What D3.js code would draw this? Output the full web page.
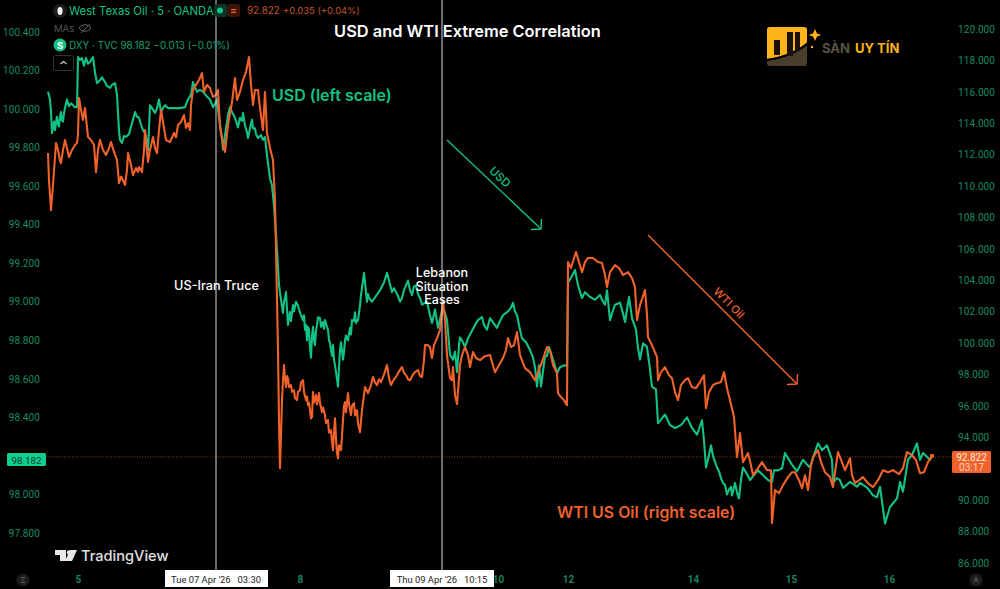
<!DOCTYPE html>
<html><head><meta charset="utf-8">
<script src="https://cdnjs.cloudflare.com/ajax/libs/d3/7.8.5/d3.min.js"></script>
<style>html,body{margin:0;padding:0;background:#000}svg{display:block}text{font-family:Inter,Roboto,sans-serif}</style>
</head><body><svg id="c" width="1000" height="589"></svg>
<script>
// [15-minute bar number, DXY value]
const usdSeries=[[0,100.09],[2,100.05],[3,99.985],[4,99.875],[5,99.91],[6,99.935],[7,99.89],[8,99.93],[9,99.96],[10,99.92],[11,99.91],[12,99.96],[13,99.985],[14,99.94],[15,99.935],[16,99.98],[17,100.005],[19,100.05],[21,100.015],[23,100.03],[25,100.02],[27,100.01],[29,100.01],[30,100.27],[32,100.255],[34,100.265],[36,100.225],[38,100.265],[40,100.235],[42,100.245],[45,100.27],[47,100.19],[49,100.135],[52,100.15],[54,100.165],[57,100.14],[59,100.12],[62,100.11],[64,100.125],[67,100.135],[69,100.075],[71,99.89],[72,99.84],[74,99.825],[76,99.86],[77,99.855],[79,99.86],[81,99.87],[82,99.89],[85,99.945],[87,99.985],[89,99.96],[91,99.955],[93,99.92],[95,99.89],[97,99.875],[99,99.83],[100,99.785],[102,100.02],[104,100.005],[107,99.98],[109,100.005],[111,100.05],[113,99.985],[115,100.005],[117,100.02],[120,100.005],[122,100.005],[127,100.005],[132,100.005],[137,100.01],[140,100.05],[143,100.075],[145,100.14],[147,100.11],[149,100.09],[152,100.1],[155,100.09],[159,100.065],[162,100.05],[165,100.01],[167,100.025],[169,100.05],[171,99.955],[174,99.85],[175,99.79],[177,99.865],[180,99.97],[182,100.01],[184,99.985],[187,99.955],[190,99.905],[192,99.955],[194,99.94],[195,99.98],[197,99.915],[199,99.88],[200,99.85],[202,99.9],[204,99.945],[205,99.9],[207,99.9],[208,99.87],[210,99.85],[213,99.865],[215,99.84],[217,99.855],[219,99.76],[222,99.64],[224,99.605],[226,99.5],[227,99.425],[229,99.27],[231,99.087],[233,99.01],[235,98.942],[236,99],[237,99.02],[238,99.05],[239,98.96],[240,98.88],[241,98.92],[242,98.947],[243,98.9],[245,98.983],[246,98.95],[248,99],[250,98.98],[251,98.96],[253,98.93],[255,98.905],[256,98.93],[257,98.855],[258,98.88],[259,98.8],[260,98.87],[261,98.855],[262,98.76],[263,98.71],[264,98.82],[265,98.87],[266,98.8],[267,98.775],[268,98.85],[269,98.88],[270,98.92],[272,98.915],[273,98.87],[275,98.895],[276,98.86],[277,98.905],[279,98.87],[280,98.855],[281,98.8],[282,98.785],[284,98.72],[285,98.775],[286,98.7],[287,98.67],[289,98.6],[290,98.56],[292,98.75],[293,98.79],[295,98.7],[296,98.74],[297,98.8],[298,98.825],[300,98.8],[302,98.865],[303,98.83],[304,98.905],[306,98.9],[307,98.945],[308,98.89],[310,98.905],[312,98.98],[313,99.035],[316,99.15],[318,99.05],[319,99],[320,99.04],[321,99.02],[324,99],[328,99.03],[332,99.06],[336,99.1],[339,99.15],[342,99.09],[344,99.05],[346,99.07],[348,99.05],[350,99.03],[352,99],[354,99.02],[356,99.06],[360,99.11],[362,99.06],[364,99.035],[366,99.08],[368,99.085],[370,99.04],[372,99.02],[374,98.985],[379,99],[382,98.93],[384,98.89],[387,98.96],[390,98.865],[393,98.93],[395,98.975],[399,98.905],[402,98.725],[405,98.7],[407,98.74],[409,98.635],[411,98.775],[412,98.815],[415,98.79],[417,98.765],[420,98.81],[422,98.83],[427,98.88],[430,98.905],[434,98.92],[436,98.88],[439,98.855],[442,98.915],[449,98.865],[452,98.9],[455,98.93],[460,98.95],[463,98.97],[465,98.995],[467,98.95],[469,98.93],[472,98.855],[474,98.81],[478,98.79],[482,98.75],[485,98.71],[487,98.66],[489,98.56],[491,98.67],[493,98.56],[495,98.64],[497,98.715],[499,98.72],[501,98.765],[505,98.7],[509,98.63],[512,98.66],[516,98.67],[519,98.67],[520,99.1],[523,99.125],[527,99.165],[530,99.085],[534,99.02],[537,99.05],[542,99.025],[547,99.01],[552,99.035],[555,99],[557,98.985],[559,99.06],[562,98.905],[565,98.955],[567,98.985],[572,98.995],[575,98.94],[577,98.895],[579,98.96],[581,99.025],[584,98.915],[588,98.855],[590,98.76],[592,98.7],[595,98.785],[599,98.765],[602,98.65],[604,98.56],[608,98.545],[610,98.37],[614,98.395],[617,98.415],[622,98.36],[627,98.345],[633,98.36],[639,98.4],[644,98.345],[649,98.31],[654,98.385],[656,98.28],[658,98.14],[661,98.205],[663,98.255],[665,98.2],[666,98.185],[669,98.14],[671,98.12],[673,98.085],[675,98.06],[677,98.05],[679,98],[681,98.025],[683,98.04],[684,97.995],[687,98.06],[689,98.01],[691,97.98],[693,98.075],[695,98.14],[698,98.115],[702,98.075],[706,98.1],[710,98.125],[715,98.1],[720,98.075],[724,98.065],[726,98.125],[730,98.125],[734,98.135],[737,98.215],[741,98.18],[744,98.155],[749,98.12],[755,98.18],[759,98.155],[762,98.14],[766,98.205],[770,98.265],[774,98.23],[779,98.255],[784,98.18],[785,98.06],[789,98.085],[792,98.075],[795,98.034],[802,98.065],[809,98.04],[812,98.06],[819,98.035],[825,97.995],[829,97.985],[832,98.04],[837,97.85],[842,97.935],[849,97.98],[852,98.065],[855,98.015],[860,98.18],[864,98.205],[869,98.265],[872,98.18],[875,98.215],[882,98.18],[884,98.2]];
// [15-minute bar number, WTI value]
const wtiSeries=[[0,112.1],[1,110.38],[3,108.47],[5,110.07],[8,112.74],[10,112.3],[12,111.6],[13,111.47],[15,112.3],[17,112.93],[19,112.42],[21,111.85],[24,112.3],[27,112.61],[29,112.74],[30,113.25],[31,115.61],[33,114.85],[35,114.21],[37,114.97],[40,113.12],[43,112.93],[46,112.61],[48,110.89],[50,112.3],[52,112.93],[55,112.3],[58,111.98],[61,112.42],[63,112.8],[66,112.17],[69,111.66],[71,110.19],[73,110.6],[74,110.51],[76,110.2],[77,110.07],[79,111.02],[80,112.1],[83,111.34],[85,110.7],[88,111.15],[90,110.9],[91,111.21],[94,110.89],[96,112.3],[97,113.57],[100,111.53],[102,112.3],[105,113.12],[107,112.42],[109,112.1],[111,113.57],[113,114.84],[116,113.7],[118,112.93],[122,112.8],[126,113.38],[128,113.1],[130,113.89],[133,114.08],[136,114.52],[138,113.7],[140,114],[142,113.57],[143,115.16],[145,116.12],[148,116.44],[151,116.75],[154,117.2],[156,115.99],[159,116.44],[162,116.24],[165,115.67],[168,115.8],[170,116.12],[172,113.76],[175,112.61],[177,112.17],[180,113.89],[184,115.35],[187,116.88],[189,115.48],[192,115.99],[195,116.75],[198,117.26],[201,118.22],[203,116.44],[205,115.16],[207,116.12],[210,116.12],[212,114.97],[215,113.57],[217,115.99],[219,113.38],[222,112.42],[225,111.66],[227,109.11],[228,105.92],[230,99.56],[231,95.1],[232,92.04],[234,96.37],[235,97.6],[236,98.6],[237,97.7],[238,97.2],[239,97.9],[240,97.77],[241,97.2],[243,97.33],[244,96.9],[246,97],[247,96.5],[249,96.37],[250,96.9],[252,97],[253,97.5],[255,97.64],[256,96.9],[258,96.37],[259,96.6],[260,96.05],[261,96.2],[262,95.73],[263,95.2],[264,95.29],[265,96.88],[266,96.2],[268,96.69],[269,96.1],[271,96.82],[272,96.2],[274,95.61],[275,95.9],[277,95.42],[278,94.9],[280,95.1],[281,94.3],[283,94.46],[284,93.7],[285,93.18],[286,94.3],[287,95.22],[288,93.9],[289,93],[290,92.67],[291,93.5],[293,93.18],[294,94.1],[295,95.1],[296,96],[297,96.24],[298,95.6],[300,96.82],[301,96.1],[303,95.42],[304,96],[306,96.18],[307,95.4],[309,95.73],[310,94.9],[312,94.33],[314,95.73],[317,97.2],[320,96.82],[323,97.33],[325,97.84],[327,97.5],[329,97.33],[331,97.7],[333,97.52],[336,98],[339,98.6],[341,97.77],[343,97.33],[346,97.7],[348,97.84],[351,98.2],[354,98.47],[356,98.1],[358,97.96],[360,97.7],[362,97.64],[365,98],[367,98.15],[370,98.28],[372,97.9],[374,97.84],[376,98.92],[377,99.87],[380,99.87],[382,99.75],[384,99.05],[386,99.87],[389,100.32],[392,100.83],[394,102.1],[395,102.74],[397,101.47],[399,99.24],[402,97.77],[404,97.64],[405,98.47],[407,96.69],[409,96.12],[412,98.6],[414,99.24],[417,99.75],[420,99.24],[422,98.47],[425,99.43],[428,99.05],[432,98.92],[437,99.17],[442,99.24],[447,98.15],[451,98.6],[455,99.05],[458,99.56],[460,100.32],[463,99.75],[466,99.87],[469,100.7],[472,99.24],[477,98.41],[482,98.15],[487,97.64],[490,98.15],[494,98.79],[499,99.75],[502,99.56],[505,98.6],[509,98.09],[510,96.81],[513,96.56],[516,96.37],[519,96.05],[520,105.16],[523,104.78],[528,105.8],[531,105.16],[534,104.52],[537,105.16],[540,105.42],[545,105.42],[550,105.16],[554,105.1],[557,104.33],[559,103.57],[562,104.52],[567,104.97],[571,104.78],[575,104.33],[580,104.52],[584,104.14],[587,103.57],[589,101.47],[592,102.42],[597,103.38],[599,101.78],[600,100.38],[604,99.87],[609,99.11],[610,97.64],[613,98.15],[617,98.47],[621,97.96],[624,97.77],[627,96.88],[630,96.37],[633,97.33],[637,97.64],[640,97.77],[644,97.2],[648,97.13],[652,97.52],[656,97.96],[658,95.86],[661,96.88],[665,97.33],[669,97.45],[673,97.52],[676,98.15],[679,97.13],[682,96.37],[686,95.29],[689,92.74],[692,94.27],[695,92.42],[700,93],[703,92.23],[705,91.59],[710,92.04],[714,92.42],[719,91.91],[723,91.91],[724,88.53],[727,90.64],[731,90.45],[735,90.96],[740,91.47],[744,91.78],[747,91.78],[751,91.27],[754,90.76],[757,91.59],[760,90.64],[763,92.23],[765,92.74],[770,93.18],[773,92.42],[777,91.78],[782,91.47],[785,90.83],[788,92.23],[790,93.06],[794,92.42],[797,91.91],[802,92.67],[804,91.59],[807,91.08],[811,91.27],[815,91.47],[820,91.08],[825,90.83],[830,91.27],[835,91.91],[840,91.78],[845,91.91],[851,91.66],[855,92.04],[859,93.06],[864,92.87],[868,92.55],[872,91.72],[876,91.78],[880,92.42],[884,92.82]];
const leftTicks=[97.8,98,98.4,98.6,98.8,99,99.2,99.4,99.6,99.8,100,100.2,100.4];
const rightTicks=[86,88,90,94,96,98,100,102,104,106,108,110,112,114,116,118,120];
const dayTicks=[30,252,450,520,645,743,841];
const dayLabels=["5","8","10","12","14","15","16"];
const crosshairBars=[168,394];
const crosshairLabels=["Tue 07 Apr '26   03:30","Thu 09 Apr '26   10:15"];
const lastUsd=98.182, lastWti=92.822;

const GREEN="#12c285",ORANGE="#f0622a",TICK="#178a60";
const svg=d3.select("#c");
const x=d3.scaleLinear().domain([0,884]).range([48,932]);
const yU=d3.scaleLinear().domain([97.8,100.4]).range([533,32]);
const yW=d3.scaleLinear().domain([86,120]).range([563,29]);
svg.append("rect").attr("width",1000).attr("height",589).attr("fill","#000");

// axes
const styleAxis=g=>{g.select(".domain").remove();g.selectAll("line").remove();
  g.selectAll("text").attr("fill",TICK).style("font-size","10px").style("font-family","Roboto,sans-serif").style("letter-spacing","0.1px");};
svg.append("g").attr("transform","translate(47,0)")
  .call(d3.axisLeft(yU).tickValues(leftTicks).tickSize(0).tickPadding(7).tickFormat(d3.format(".3f"))).call(styleAxis);
svg.append("g").attr("transform","translate(951,0)")
  .call(d3.axisRight(yW).tickValues(rightTicks).tickSize(0).tickPadding(7).tickFormat(d3.format(".3f"))).call(styleAxis);
svg.append("g").attr("transform","translate(0,570)")
  .call(d3.axisBottom(x).tickValues(dayTicks).tickSize(0).tickPadding(6).tickFormat((d,i)=>dayLabels[i])).call(styleAxis)
  .selectAll("text").attr("font-weight",600).style("font-size","10px");

// last price line
svg.append("line").attr("x1",46).attr("x2",952).attr("y1",457).attr("y2",457)
  .attr("stroke","#b8431c").attr("stroke-width",.8).attr("stroke-dasharray","1 1.6");

// series
const lineU=d3.line().x(d=>x(d[0])).y(d=>yU(d[1]));
const lineW=d3.line().x(d=>x(d[0])).y(d=>yW(d[1]));
svg.append("path").datum(usdSeries).attr("d",lineU).attr("fill","none").attr("stroke",GREEN).attr("stroke-width",2.1).attr("stroke-linejoin","round");
svg.append("path").datum(wtiSeries).attr("d",lineW).attr("fill","none").attr("stroke",ORANGE).attr("stroke-width",2.1).attr("stroke-linejoin","round");
svg.append("circle").attr("cx",x(884)).attr("cy",yW(lastWti)).attr("r",2.2).attr("fill",ORANGE);

// crosshairs
crosshairBars.forEach((b,i)=>{
  svg.append("line").attr("x1",x(b)).attr("x2",x(b)).attr("y1",0).attr("y2",570).attr("stroke","#d8d8d8").attr("stroke-width",1);
  const w=i?104:103;
  svg.append("rect").attr("x",x(b)-(i?52:51)).attr("y",570).attr("width",w).attr("height",17).attr("fill","#fff");
  svg.append("text").attr("x",x(b)).attr("y",583).attr("text-anchor","middle").attr("fill","#222").attr("font-size",9.4).style("font-family","Roboto,sans-serif").style("white-space","pre").text(crosshairLabels[i]);
});

// header
const T=(px,py,s,o={})=>{const t=svg.append("text").attr("x",px).attr("y",py).text(s).attr("fill",o.fill||"#fff").attr("font-size",o.size||12).attr("font-weight",o.weight||400).attr("text-anchor",o.anchor||"start");if(o.rot!=null)t.attr("transform",`rotate(${o.rot} ${px} ${py})`);return t;};
svg.append("circle").attr("cx",60).attr("cy",11).attr("r",7).attr("fill","#1c1c1c");
svg.append("ellipse").attr("cx",60).attr("cy",11).attr("rx",2.6).attr("ry",4).attr("fill","#eee");
T(69,15,"West Texas Oil · 5 · OANDA",{fill:GREEN,size:11.3});
svg.append("rect").attr("x",214).attr("y",4).attr("width",13).attr("height",13).attr("rx",3).attr("fill","#0c3526");
svg.append("circle").attr("cx",220).attr("cy",10.5).attr("r",3).attr("fill",GREEN);
svg.append("rect").attr("x",227).attr("y",4).attr("width",13).attr("height",13).attr("rx",3).attr("fill","#3a1408");
T(233.5,14,"=",{fill:ORANGE,size:10,anchor:"middle",weight:700});
T(247,14,"92.822",{fill:"#c9542a",size:9.8});
T(283,14,"+0.035 (+0.04%)",{fill:"#c9542a",size:9.4});
T(54,32,"MAs",{fill:"#555",size:9.5});
svg.append("ellipse").attr("cx",85).attr("cy",28).attr("rx",5.5).attr("ry",3.2).attr("fill","none").attr("stroke","#666");
svg.append("line").attr("x1",81).attr("y1",33).attr("x2",90).attr("y2",24).attr("stroke","#666");
svg.append("circle").attr("cx",60).attr("cy",45).attr("r",6.5).attr("fill",GREEN);
T(60,48.5,"S",{fill:"#fff",size:9.5,weight:700,anchor:"middle"});
T(69,49,"DXY · TVC  98.182  −0.013 (−0.01%)",{fill:"#15a070",size:9.9});
svg.append("rect").attr("x",53.5).attr("y",55.5).attr("width",20).attr("height",15).attr("rx",2).attr("fill","#000").attr("stroke","#333");
svg.append("path").attr("d","M60.5 64 L63.5 61.5 L66.5 64").attr("fill","none").attr("stroke","#ccc").attr("stroke-width",1.1);

// title and annotations
T(467.5,36.5,"USD and WTI Extreme Correlation",{size:16.4,weight:600,anchor:"middle"});
T(272,101,"USD (left scale)",{fill:GREEN,size:16,weight:600});
T(557,518,"WTI US Oil (right scale)",{fill:ORANGE,size:15.9,weight:600});
T(216.5,289.5,"US-Iran Truce",{size:12.7,weight:500,anchor:"middle"});
["Lebanon","Situation","Eases"].forEach((s,i)=>T(442,277+i*13.5,s,{size:12.6,weight:500,anchor:"middle"}));

// trend arrows
const arrow=(x1,y1,x2,y2,c)=>{
  svg.append("line").attr("x1",x1).attr("y1",y1).attr("x2",x2).attr("y2",y2).attr("stroke",c).attr("stroke-width",1.4);
  svg.append("path").attr("d",`M${x2-10} ${y2+.5} L${x2} ${y2} L${x2+.5} ${y2-10}`).attr("fill","none").attr("stroke",c).attr("stroke-width",1.4);
};
arrow(447,140,541,229,GREEN);
arrow(648,235,797,384,ORANGE);
T(500,177,"USD",{fill:GREEN,size:11.5,weight:500,anchor:"middle",rot:43}).attr("dy","0.35em");
T(729,303,"WTI Oil",{fill:ORANGE,size:11,weight:500,anchor:"middle",rot:45}).attr("dy","0.35em");

// brand logo
svg.append("rect").attr("x",767).attr("y",27).attr("width",40).attr("height",39).attr("rx",3).attr("fill","#4a3d2c");
svg.append("path").attr("d","M770 27 H804 Q807 27 807 30 V42 Q792 56 767 59 V30 Q767 27 770 27 Z").attr("fill","#ffb31a");
svg.append("path").attr("d","M767 60 Q795 56 812 40").attr("fill","none").attr("stroke","#000").attr("stroke-width",2.2);
[[774,40,6,15],[787,32,6,24],[795,32,5,19]].forEach(r=>svg.append("rect").attr("x",r[0]).attr("y",r[1]).attr("width",r[2]).attr("height",r[3]).attr("fill","#1a1208"));
svg.append("path").attr("d","M815 29 L817 33.5 L821.5 35 L817 36.5 L815 41 L813 36.5 L808.5 35 L813 33.5 Z").attr("fill","#ffb31a");
svg.append("circle").attr("cx",812).attr("cy",47).attr("r",1.2).attr("fill","#ffb31a");
T(822,52.5,"SÀN",{fill:"#5a5245",size:13,weight:700});
T(855,52.5,"UY TÍN",{fill:"#ffb31a",size:13,weight:700});

// TradingView mark
svg.append("path").attr("d","M55 550 H66 V561 H60 V555 H55 Z M70 550 H77 L72 561 H65 Z").attr("fill","#e8e8e8");
svg.append("circle").attr("cx",69).attr("cy",552.5).attr("r",2.2).attr("fill","#e8e8e8");
T(81,561,"TradingView",{fill:"#e0e0e0",size:14.6,weight:500});

// price tags
svg.append("rect").attr("x",7).attr("y",453).attr("width",39).attr("height",13).attr("rx",1.5).attr("fill","#10d08f");
T(26.5,463.5,"98.182",{fill:"#06402c",size:9.8,anchor:"middle"}).style("font-family","Roboto,sans-serif");
svg.append("rect").attr("x",952).attr("y",451).attr("width",39).attr("height",22).attr("rx",1.5).attr("fill",ORANGE);
const tagText=svg.append("text").attr("text-anchor","middle").style("font-family","Roboto,sans-serif").attr("font-size",10);
tagText.append("tspan").attr("x",971.5).attr("y",460.5).attr("fill","#ffe6da").text("92.822");
tagText.append("tspan").attr("x",971.5).attr("y",470.5).attr("fill","#ffd0bb").text("03:17");

// corner buttons
[[23,"Z"],[976,"A"]].forEach(d=>{svg.append("circle").attr("cx",d[0]).attr("cy",580).attr("r",6.5).attr("fill","#1c1c1c");
  T(d[0],583,d[1],{fill:"#666",size:8,anchor:"middle"});});
</script></body></html>
